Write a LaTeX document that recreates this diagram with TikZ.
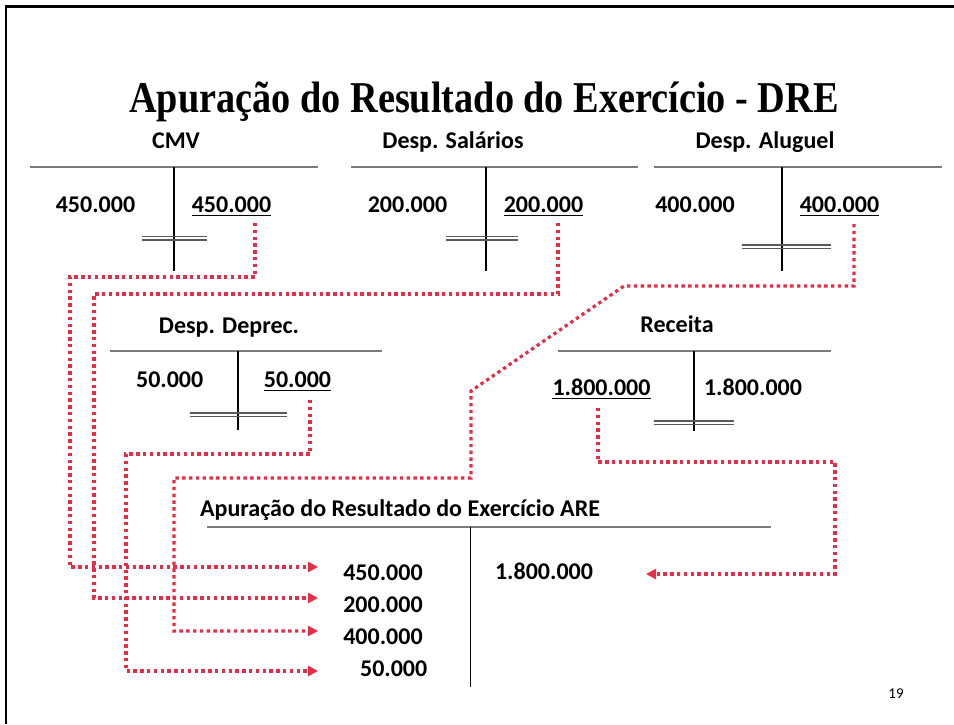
\documentclass[tikz,border=0pt]{standalone}
\usepackage{fontspec}
\setmainfont{Carlito}
\newfontfamily\titlefont{Liberation Serif}
\usetikzlibrary{arrows.meta}
\definecolor{dotred}{RGB}{228,45,70}
\definecolor{tgray}{RGB}{125,125,125}
\definecolor{dgray}{RGB}{90,90,90}
\begin{document}
\begin{tikzpicture}[x=1pt,y=-1pt,
  num/.style={anchor=base,font=\fontsize{24}{28}\selectfont\bfseries,inner sep=0pt},
  head/.style={num},
  tline/.style={draw=tgray,line width=2pt},
  vline/.style={draw=black,line width=1.3pt},
  dline/.style={draw=dgray,line width=1.4pt},
  uline/.style={draw=black,line width=1.8pt},
  flow/.style={draw=dotred,line width=3.2pt,dash pattern=on 3.4pt off 3.4pt,-{Triangle[length=10pt,width=10pt]}}
]
\useasboundingbox (0,0) rectangle (954,724);
% frame
\draw[line width=2.5pt] (6,724) -- (6,6.5) -- (954,6.5);
% title
\node[anchor=base,inner sep=0pt] (title) at (484,112) {\scalebox{0.87}[1]{\titlefont\fontsize{44}{50}\selectfont\bfseries Apuração do Resultado do Exercício - DRE}};

% ---------- CMV ----------
\node[head] (cmvH) at (176,148) {CMV};
\draw[tline] (30,167) -- (318,167);
\draw[vline] (174,167) -- (174,271);
\node[num] (cmvL) at (95.5,212.5) {450.000};
\node[num] (cmvR) at (231.5,212.5) {450.000};
\draw[uline] ([yshift=-3pt]cmvR.base west) -- ([yshift=-3pt]cmvR.base east);
\draw[dline] (142,236.5) -- (207,236.5);
\draw[dline] (142,240) -- (207,240);

% ---------- Desp. Salarios ----------
\node[head] (salH) at (453,148) {Desp. Salários};
\draw[tline] (351,167) -- (638,167);
\draw[vline] (486,167) -- (486,271);
\node[num] (salL) at (407.5,212.5) {200.000};
\node[num] (salR) at (543.5,212.5) {200.000};
\draw[uline] ([yshift=-3pt]salR.base west) -- ([yshift=-3pt]salR.base east);
\draw[dline] (446,236.5) -- (518,236.5);
\draw[dline] (446,240) -- (518,240);

% ---------- Desp. Aluguel ----------
\node[head] (aluH) at (765,148) {Desp. Aluguel};
\draw[tline] (654,167) -- (942,167);
\draw[vline] (782,167) -- (782,271);
\node[num] (aluL) at (695,212.5) {400.000};
\node[num] (aluR) at (839.5,212.5) {400.000};
\draw[uline] ([yshift=-3pt]aluR.base west) -- ([yshift=-3pt]aluR.base east);
\draw[dline] (742,245) -- (831,245);
\draw[dline] (742,248.5) -- (831,248.5);

% ---------- Desp. Deprec. ----------
\node[head] (depH) at (229,333) {Desp. Deprec.};
\draw[tline] (110,351) -- (382,351);
\draw[vline] (238,351) -- (238,430);
\node[num] (depL) at (169.7,387.5) {50.000};
\node[num] (depR) at (297.5,387.5) {50.000};
\draw[uline] ([yshift=-3pt]depR.base west) -- ([yshift=-3pt]depR.base east);
\draw[dline] (190,413) -- (287,413);
\draw[dline] (190,416.5) -- (287,416.5);

% ---------- Receita ----------
\node[head] (recH) at (677,332) {Receita};
\draw[tline] (558,351) -- (831,351);
\draw[vline] (694,351) -- (694,431);
\node[num] (recL) at (601.5,395.5) {1.800.000};
\node[num] (recR) at (753,395.5) {1.800.000};
\draw[uline] ([yshift=-3pt]recL.base west) -- ([yshift=-3pt]recL.base east);
\draw[dline] (654,421) -- (734,421);
\draw[dline] (654,424.5) -- (734,424.5);

% ---------- ARE ----------
\node[head] (areH) at (400,516) {Apuração do Resultado do Exercício ARE};
\draw[tline] (207,527) -- (771,527);
\draw[vline] (470.7,527) -- (470.7,687);
\node[num] (are1) at (383,580) {450.000};
\node[num] (are2) at (383,612.5) {200.000};
\node[num] (are3) at (383,644) {400.000};
\node[num] (are4) at (393.7,676.5) {50.000};
\node[num] (areR) at (544,579) {1.800.000};

% page number
\node[anchor=base,inner sep=0pt,font=\fontsize{15}{18}\selectfont] (pg) at (896,698) {19};

% ---------- flows ----------
\coordinate (a0) at (255,223);
\coordinate (a1) at (255,277);
\coordinate (a2) at (70,277);
\coordinate (a3) at (70,567);
\coordinate (a4) at (318,567);
\draw[flow] (a0) -- (a1) -- (a2) -- (a3) -- (a4);

\coordinate (b0) at (558,223);
\coordinate (b1) at (558,294);
\coordinate (b2) at (94,294);
\coordinate (b3) at (94,598);
\coordinate (b4) at (318,598);
\draw[flow] (b0) -- (b1) -- (b2) -- (b3) -- (b4);

\coordinate (c0) at (854,224);
\coordinate (c1) at (854,286);
\coordinate (c2) at (624,286);
\coordinate (c3) at (471,391);
\coordinate (c4) at (471,478);
\coordinate (c5) at (174,478);
\coordinate (c6) at (174,631);
\coordinate (c7) at (318,631);
\draw[flow] (c0) -- (c1) -- (c2) -- (c3) -- (c4) -- (c5) -- (c6) -- (c7);

\coordinate (d0) at (310,400);
\coordinate (d1) at (310,454);
\coordinate (d2) at (126,454);
\coordinate (d3) at (126,671);
\coordinate (d4) at (318,671);
\draw[flow] (d0) -- (d1) -- (d2) -- (d3) -- (d4);

\coordinate (e0) at (598,408);
\coordinate (e1) at (598,462);
\coordinate (e2) at (835,462);
\coordinate (e3) at (835,574);
\coordinate (e4) at (646,574);
\draw[flow] (e0) -- (e1) -- (e2) -- (e3) -- (e4);
\end{tikzpicture}
\end{document}
